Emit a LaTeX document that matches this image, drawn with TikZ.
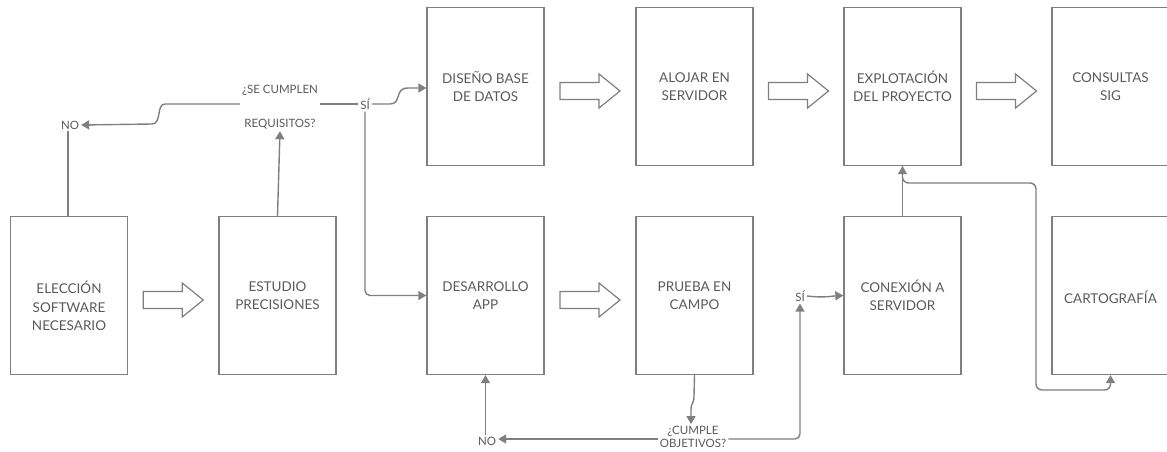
\documentclass[tikz,border=0pt]{standalone}
\usepackage{fontspec}
\setmainfont{Lato}
\usetikzlibrary{arrows.meta,calc}
\definecolor{txt}{HTML}{5A5A5A}
\definecolor{ln}{HTML}{7F7F7F}
\definecolor{bd}{HTML}{7F7F7F}
\begin{document}
\begin{tikzpicture}[x=1pt,y=-1pt,
 box/.style={draw=bd,line width=1.3pt,minimum width=117pt,minimum height=158pt,inner sep=0pt,align=center,text=txt,font=\fontsize{13.5}{18.5}\selectfont},
 boxtxt/.style={inner sep=0pt,align=center,text=txt,font=\fontsize{13.5}{18.5}\selectfont},
 lbl/.style={text=txt,font=\fontsize{11.5}{13}\selectfont,inner sep=2pt,align=center},
 conn/.style={draw=ln,line width=1.4pt,-{Triangle[length=8pt,width=9pt]}},
 plain/.style={draw=ln,line width=1.4pt},
 barrow/.pic={\draw[bd,line width=1.2pt,fill=white] (-30,-8.5) -- (9,-8.5) -- (9,-17) -- (30,0) -- (9,17) -- (9,8.5) -- (-30,8.5) -- cycle;}
]
\useasboundingbox (0,0) rectangle (1167,452);
\clip (0,0) rectangle (1167,452);

% boxes
\node[box] (elec) at (69,295.5) {};
\node[boxtxt] (electxt) at (69,306) {ELECCIÓN\\SOFTWARE\\NECESARIO};
\node[box] (est) at (277.5,295.5) {ESTUDIO\\PRECISIONES};
\node[box] (dis) at (485.5,86.5) {DISEÑO BASE\\DE DATOS};
\node[box] (alo) at (694.5,86.5) {ALOJAR EN\\SERVIDOR};
\node[box] (exp) at (902.5,86.5) {EXPLOTACIÓN\\DEL PROYECTO};
\node[box] (cons) at (1110.5,86.5) {CONSULTAS\\SIG};
\node[box] (des) at (485.5,295.5) {DESARROLLO\\APP};
\node[box] (pru) at (694.5,295.5) {PRUEBA EN\\CAMPO};
\node[box] (con) at (902.5,295.5) {CONEXIÓN A\\SERVIDOR};
\node[box] (car) at (1110.5,295.5) {};
\node[boxtxt] (cartxt) at (1110.5,297) {CARTOGRAFÍA};

% block arrows
\pic at ($(elec.east)!0.5!(est.west)+(0,4.5)$) {barrow};
\pic at ($(des.east)!0.5!(pru.west)+(0,4.5)$) {barrow};
\pic at ($(dis.east)!0.5!(alo.west)+(0,4.5)$) {barrow};
\pic at ($(alo.east)!0.5!(exp.west)+(0,4.5)$) {barrow};
\pic at ($(exp.east)!0.5!(cons.west)+(0,4.5)$) {barrow};

% labels
\node[lbl,font=\fontsize{11.5}{34}\selectfont] (q1) at (280,107) {¿SE CUMPLEN\\REQUISITOS?};
\node[lbl] (si1) at (365,104) {SÍ};
\node[lbl] (no1) at (70,125) {NO};
\node[lbl] (q2) at (693,437) {¿CUMPLE\\OBJETIVOS?};
\node[lbl] (no2) at (487,441) {NO};
\node[lbl] (si2) at (800,296) {SÍ};

\coordinate (q1w) at ($(q1.west)+(0,-3)$);
\coordinate (q1e) at ($(q1.east)+(0,-3)$);

% top decision
\draw[plain] (elec.north -| 68,0) -- (no1.south -| 68,0);
\draw[conn] (est.north) -- (q1.south);
\draw[conn] (q1w) -- (165,104) .. controls (156,104) and (162,124) .. (152,124) -- (no1.east);
\draw[plain] (q1e) -- (si1.west);
\draw[conn] (si1.east) -- (390,104) .. controls (402,104) and (394,88) .. (408,88) -- (dis.west |- 0,88);
\draw[conn, rounded corners=5pt] (si1.south) |- (des.west);

% bottom decision
\draw[conn] (pru.south) -- (694,396) .. controls (694,404) and (691,402) .. (691,410) -- (q2.north -| 691,0);
\draw[conn] (q2.west |- 0,439) -- (no2.east |- 0,439);
\draw[conn] (no2.north -| des.south) -- (des.south);
\draw[conn, rounded corners=5pt] (q2.east |- 0,439) -| (si2.south);
\draw[conn] (si2.east) .. controls (825,298) and (832,296) .. (con.west);

% to exploitation and cartography
\draw[conn] (con.north) -- (exp.south);
\coordinate (c1) at (1036,183);
\coordinate (c2) at (1036,390);
\draw[conn, rounded corners=6pt] (exp.south) |- (c1) -- (c2) -| (car.south);
\end{tikzpicture}
\end{document}
